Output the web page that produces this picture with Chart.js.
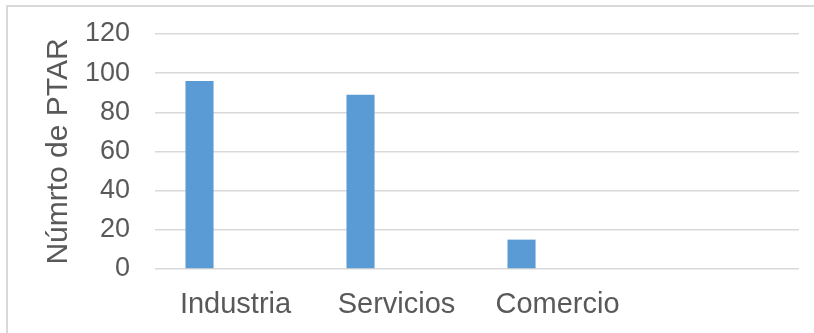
<!DOCTYPE html>
<html>
<head>
<meta charset="utf-8">
<script src="https://cdn.jsdelivr.net/npm/chart.js@4/dist/chart.umd.min.js"></script>
<style>
  html, body { margin: 0; padding: 0; background: #fff; overflow: hidden; }
  .frame {
    position: absolute; left: 6px; top: 5px; width: 900px; height: 400px;
    border: 2px solid #D9D9D9; box-sizing: border-box;
  }
  .wrap { position: absolute; left: 0; top: 0; width: 814px; height: 333px; }
</style>
</head>
<body>
<div class="frame"></div>
<div class="wrap"><canvas id="ptarChart" width="814" height="333"></canvas></div>
<script>
// Plantas de tratamiento por sector
const categories = ['Industria', 'Servicios', 'Comercio', ''];
const ptarValues = [96, 89, 15, null];
const emptySeries = [null, null, null, null];
const yTicks = [0, 20, 40, 60, 80, 100, 120];

const textColor = '#595959';
const gridColor = '#D9D9D9';
const fontFamily = '"Liberation Sans", Arial, sans-serif';

const ctx = document.getElementById('ptarChart').getContext('2d');
new Chart(ctx, {
  type: 'bar',
  data: {
    labels: categories,
    datasets: [
      {
        label: 'PTAR',
        data: ptarValues,
        backgroundColor: '#5B9BD5',
        borderWidth: 0,
      },
      {
        label: '',
        data: emptySeries,
        backgroundColor: '#ED7D31',
      },
    ],
  },
  options: {
    responsive: false,
    animation: false,
    categoryPercentage: 0.894,
    barPercentage: 0.39,
    layout: { padding: { top: 34, right: 15, bottom: 0, left: 0 } },
    plugins: {
      legend: { display: false },
      tooltip: { enabled: false },
    },
    scales: {
      x: {
        grid: { display: false, drawTicks: false },
        border: { display: false },
        ticks: {
          color: textColor,
          font: { family: fontFamily, size: 29 },
          padding: 19,
          maxRotation: 0,
        },
        afterFit: (scale) => {
          scale.height = 64;
          scale.paddingLeft = 0;
          scale.paddingRight = 0;
        },
      },
      y: {
        min: 0,
        max: 120,
        afterBuildTicks: (scale) => {
          scale.ticks = yTicks.map((v) => ({ value: v }));
        },
        grid: { color: gridColor, lineWidth: 1.5, drawTicks: false },
        border: { display: false },
        ticks: {
          color: textColor,
          font: { family: fontFamily, size: 27 },
          padding: 25,
        },
        title: {
          display: true,
          text: 'Númrto de PTAR',
          color: textColor,
          font: { family: fontFamily, size: 30 },
          padding: { top: 41, bottom: 0 },
        },
        afterFit: (scale) => {
          scale.width = 155;
          scale.paddingTop = 0;
          scale.paddingBottom = 0;
        },
      },
    },
  },
});
</script>
</body>
</html>
